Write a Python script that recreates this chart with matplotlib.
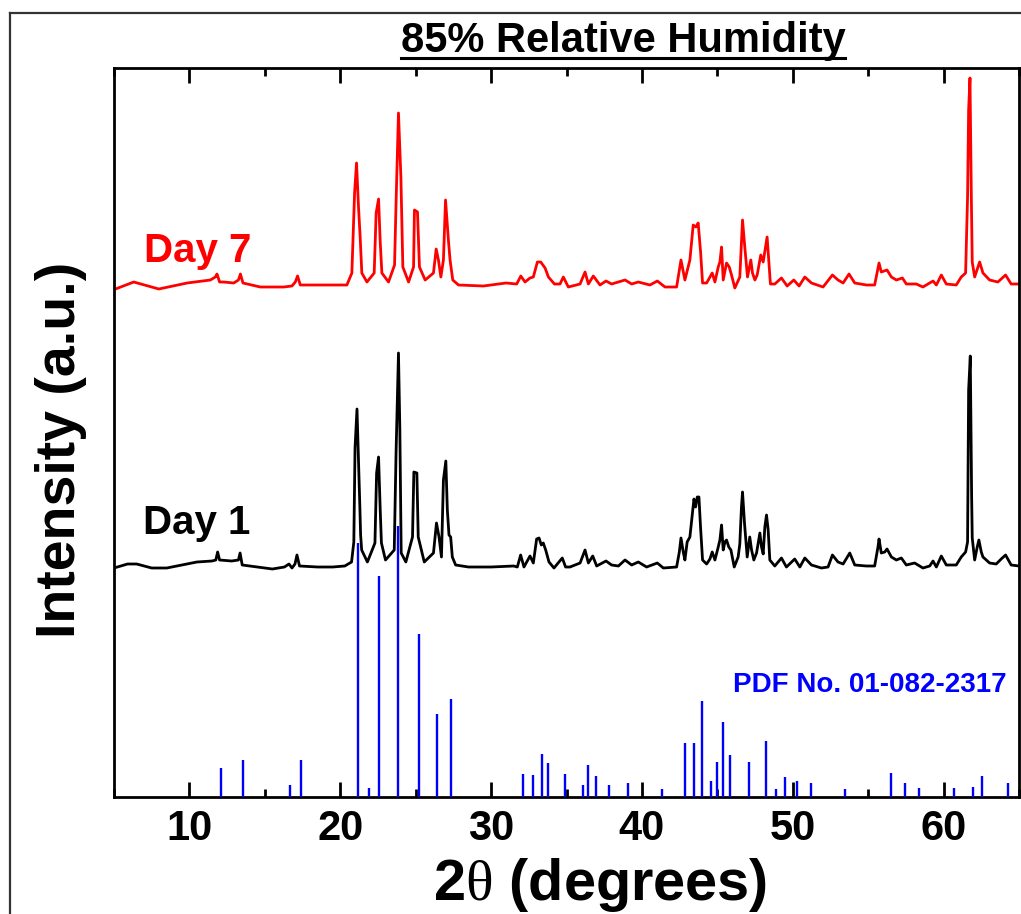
import matplotlib
matplotlib.use("Agg")
import matplotlib.pyplot as plt
from matplotlib.lines import Line2D

plt.rcParams['font.family'] = ['Liberation Sans', 'DejaVu Sans']
plt.rcParams['mathtext.fontset'] = 'custom'
plt.rcParams['mathtext.rm'] = 'Liberation Serif'

# ---------------- data ----------------
day1_2theta = [5.0, 5.9, 6.5, 7.5, 8.5, 9.5, 10.5, 11.5, 11.75, 11.87, 12.0, 12.8, 13.25, 13.36, 13.5,
               14.5, 15.5, 16.3, 16.6, 16.8, 17.0, 17.13, 17.3, 18.5, 19.5, 20.3, 20.75, 20.9, 20.98,
               21.11, 21.22, 21.3, 21.35, 21.42, 21.8, 22.3, 22.41, 22.54, 22.65, 22.73, 23.0, 23.58,
               23.7, 23.86, 23.95, 24.04, 24.35, 24.79, 24.88, 25.08, 25.17, 25.57, 26.18, 26.38,
               26.55, 26.71, 26.84, 27.0, 27.1, 27.21, 27.32, 27.43, 27.65, 28.5, 30.0, 31.5, 31.74,
               31.96, 32.18, 32.58, 32.8, 33.02, 33.18, 33.33, 33.46, 33.62, 33.84, 34.17, 34.72,
               34.94, 35.23, 35.9, 36.23, 36.45, 36.74, 37.0, 37.62, 37.99, 38.44, 38.88, 39.32,
               39.76, 40.31, 41.02, 41.42, 42.3, 42.48, 42.59, 42.74, 42.85, 43.0, 43.18, 43.36,
               43.45, 43.56, 43.67, 43.78, 43.89, 44.02, 44.29, 44.51, 44.66, 44.84, 45.06, 45.17,
               45.28, 45.39, 45.5, 45.61, 45.76, 45.9, 46.12, 46.38, 46.49, 46.6, 46.67, 46.8, 46.98,
               47.15, 47.27, 47.42, 47.6, 47.82, 47.93, 48.04, 48.15, 48.26, 48.37, 48.48, 48.81,
               49.25, 49.58, 50.13, 50.47, 50.8, 51.24, 51.9, 52.34, 52.63, 53.0, 53.34, 53.78,
               54.11, 54.88, 55.43, 55.65, 55.72, 55.87, 56.1, 56.25, 56.54, 56.87, 57.2, 57.53,
               58.08, 58.63, 59.08, 59.3, 59.52, 59.85, 60.18, 60.84, 61.17, 61.46, 61.59, 61.66,
               61.77, 61.86, 61.9, 62.06, 62.23, 62.34, 62.5, 62.61, 63.05, 63.49, 63.82, 64.11,
               64.48, 65.0]
day1_intensity = [229, 233, 233, 229, 229, 232, 235, 236, 237, 245, 237, 236, 237, 244, 232,
                  230, 228, 230, 233, 229, 233, 242, 231, 230, 230, 231, 235, 255, 349,
                  388, 332, 290, 262, 247, 235, 254, 324, 340, 287, 254, 237, 247,
                  344, 444, 369, 244, 235, 260, 325, 324, 260, 235, 244, 274,
                  260, 240, 317, 336, 287, 262, 260, 240, 232, 230, 230, 231, 230,
                  242, 230, 241, 234, 258, 259, 252, 254, 247, 235, 229, 239,
                  230, 230, 234, 247, 234, 241, 231, 236, 232, 231, 237, 232,
                  235, 230, 234, 229, 230, 245, 259, 245, 237, 255, 260, 285,
                  298, 290, 300, 300, 269, 237, 233, 238, 245, 237, 250, 257,
                  272, 247, 255, 257, 250, 247, 230, 240, 253, 290, 305, 274, 240,
                  260, 247, 237, 244, 264, 250, 243, 270, 282, 267, 237, 231,
                  239, 230, 238, 230, 239, 232, 229, 230, 242, 235, 233, 244,
                  232, 231, 231, 250, 258, 244, 245, 248, 240, 237, 239, 232,
                  234, 229, 231, 236, 230, 241, 232, 232, 240, 245, 255, 407,
                  441, 300, 259, 237, 250, 257, 245, 240, 234, 233, 238, 242,
                  232, 231]

day7_2theta = [5.1, 6.31, 7.97, 9.85, 11.39, 11.72, 11.83, 12.0, 12.27, 12.94, 13.25, 13.38, 13.55,
               14.7, 16.25, 16.8, 17.02, 17.17, 17.35, 18.45, 20.44, 20.77, 20.95, 21.08, 21.21,
               21.32, 21.43, 21.77, 22.25, 22.38, 22.54, 22.65, 22.76, 23.2, 23.6, 23.71, 23.86,
               24.02, 24.15, 24.53, 24.86, 24.92, 25.12, 25.25, 25.63, 26.18, 26.36, 26.51, 26.67,
               26.84, 26.98, 27.17, 27.28, 27.46, 27.84, 29.49, 30.99, 31.7, 31.97, 32.25, 32.58,
               32.8, 33.07, 33.29, 33.58, 33.8, 34.2, 34.57, 34.79, 35.12, 35.9, 36.23, 36.45,
               36.78, 37.22, 37.62, 37.99, 38.88, 39.32, 39.76, 40.53, 41.02, 41.53, 42.3, 42.59,
               42.85, 43.18, 43.4, 43.58, 43.73, 43.89, 44.02, 44.29, 44.66, 44.84, 45.06, 45.17,
               45.28, 45.39, 45.61, 45.79, 45.94, 46.16, 46.49, 46.67, 46.82, 47.0, 47.22, 47.33,
               47.49, 47.64, 47.88, 48.04, 48.3, 48.41, 48.52, 48.81, 49.25, 49.63, 50.07, 50.42,
               50.8, 51.24, 52.01, 52.63, 53.0, 53.34, 53.73, 54.11, 54.88, 55.43, 55.72, 55.87,
               56.25, 56.54, 56.87, 57.27, 57.53, 58.19, 58.63, 59.3, 59.52, 59.85, 60.18, 60.84,
               61.17, 61.46, 61.59, 61.66, 61.75, 61.84, 61.9, 62.06, 62.39, 62.61, 63.05, 63.6,
               64.11, 64.48, 65.0]
day7_intensity = [508, 515, 508, 514, 517, 520, 523, 515, 515, 514, 517, 523, 514,
                  510, 510, 511, 515, 521, 512, 512, 512, 524, 604, 634, 590,
                  560, 524, 515, 524, 584, 598, 555, 524, 515, 532, 600, 684,
                  620, 530, 515, 530, 587, 585, 530, 517, 524, 548, 537, 520,
                  537, 597, 557, 537, 517, 512, 511, 514, 513, 521, 515, 519,
                  520, 535, 535, 529, 520, 513, 513, 520, 510, 513, 525, 513,
                  521, 512, 516, 513, 517, 513, 515, 512, 516, 510, 510, 537,
                  517, 537, 572, 570, 574, 545, 514, 514, 524, 515, 530, 535,
                  550, 517, 534, 530, 522, 509, 520, 577, 550, 520, 537, 524,
                  517, 522, 542, 535, 560, 537, 513, 513, 519, 511, 517, 511,
                  520, 514, 510, 522, 517, 514, 523, 514, 512, 512, 534, 525,
                  527, 520, 517, 519, 513, 513, 510, 516, 512, 522, 513, 512,
                  520, 524, 600, 687, 719, 600, 535, 520, 535, 524, 517, 515,
                  522, 513, 513]

pdf_2theta = [12.07, 13.56, 16.64, 17.37, 21.17, 21.93, 22.54, 23.86, 25.19, 26.40, 27.33,
              32.11, 32.76, 33.36, 33.76, 34.89, 36.10, 36.41, 36.93, 37.85, 39.06, 41.34,
              42.83, 43.44, 43.97, 44.57, 44.98, 45.35, 45.87, 47.12, 48.22, 48.88, 49.47,
              50.27, 51.23, 53.45, 56.50, 57.42, 58.36, 60.70, 61.94, 62.53, 64.27]
pdf_intensity = [29, 37, 12, 37, 254, 9, 221, 271, 163, 83, 98,
                 23, 22, 43, 34, 23, 12, 32, 21, 12, 14, 8,
                 54, 54, 96, 16, 35, 75, 42, 35, 56, 8, 20,
                 16, 14, 8, 24, 14, 9, 9, 10, 21, 14]

x_major_ticks = [10, 20, 30, 40, 50, 60]
x_minor_ticks = [5, 15, 25, 35, 45, 55, 65]

title_text = "85% Relative Humidity"
xlabel_text = r"2$\mathrm{\theta}$ (degrees)"
ylabel_text = "Intensity (a.u.)"
label_day7 = "Day 7"
label_day1 = "Day 1"
label_pdf = "PDF No. 01-082-2317"

# ---------------- figure ----------------
W, H = 1021, 914
fig = plt.figure(figsize=(W / 100, H / 100), dpi=100)
ax = fig.add_axes([114 / W, 1 - 797 / H, (1019 - 114) / W, (797 - 68) / H])

ax.plot(day7_2theta, day7_intensity, color='#ff0000', lw=2.0, zorder=2)
ax.plot(day1_2theta, day1_intensity, color='black', lw=2.0, zorder=2)
ax.vlines(pdf_2theta, 0, pdf_intensity, colors='#0000ff', lw=1.7, zorder=3)

ax.set_xlim(5, 65)
ax.set_ylim(0, 729)
ax.set_yticks([])
ax.set_xticks(x_major_ticks)
ax.set_xticks(x_minor_ticks, minor=True)
ax.tick_params(axis='x', which='both', direction='in', top=True, bottom=True,
               width=2, labelsize=30, pad=9)
ax.tick_params(axis='x', which='major', length=10.5)
ax.tick_params(axis='x', which='minor', length=5.5)
for lab in ax.get_xticklabels():
    lab.set_fontweight('bold')
for sp in ax.spines.values():
    sp.set_linewidth(2)

ax.text(7.0, 535, label_day7, color='#ff0000', fontsize=29, fontweight='bold',
        ha='left', va='baseline')
ax.text(6.9, 263, label_day1, color='black', fontsize=29, fontweight='bold',
        ha='left', va='baseline')
ax.text(64.2, 105, label_pdf, color='#0000ff', fontsize=20, fontweight='bold',
        ha='right', va='baseline')

fig.text(600 / W, 1 - 900 / H, xlabel_text, fontsize=41.5, fontweight='bold',
         ha='center', va='baseline')
fig.text(61 / W, 1 - 450 / H, ylabel_text, fontsize=40, fontweight='bold',
         rotation=90, ha='center', va='center')

t = fig.text(623 / W, 1 - 52 / H, title_text, fontsize=30, fontweight='bold',
             ha='center', va='baseline')
fig.canvas.draw()
bb = t.get_window_extent()
uy = 1 - 58 / H
fig.add_artist(Line2D([bb.x0 / W, bb.x1 / W], [uy, uy], color='black', lw=2.2,
                      transform=fig.transFigure))

# outer frame (top and left edges)
fig.add_artist(Line2D([10 / W, 1.0], [1 - 13 / H, 1 - 13 / H], color='#333333', lw=1.6,
                      transform=fig.transFigure))
fig.add_artist(Line2D([10 / W, 10 / W], [0.0, 1 - 13 / H], color='#333333', lw=1.6,
                      transform=fig.transFigure))

fig.savefig("out.png", dpi=100)
